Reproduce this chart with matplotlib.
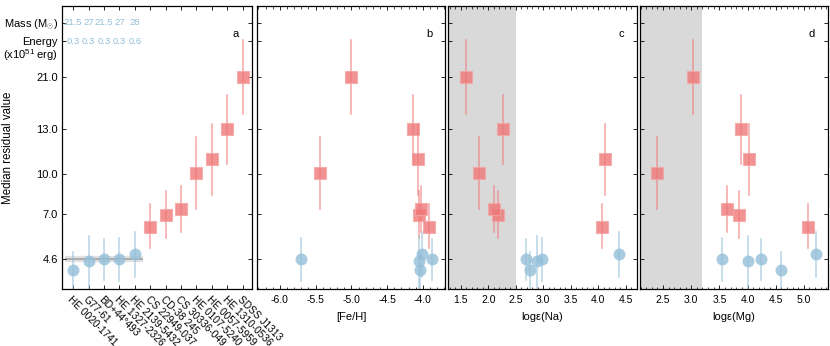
import numpy as np
import matplotlib
matplotlib.use("Agg")
import matplotlib.pyplot as plt
from matplotlib.ticker import FixedLocator

plt.rcParams['font.family'] = ['Liberation Sans', 'DejaVu Sans']
plt.rcParams['mathtext.fontset'] = 'custom'
plt.rcParams['mathtext.rm'] = 'Liberation Sans'

# ---- data ----
stars = ["HE 0020-1741", "G77-61", "BD+44°493", "HE 1327-2326", "HE 2139-5432",
         "CS 22949-037", "CD-38 245", "CS 30336-049", "HE 0107-5240",
         "HE 0057-5959", "HE 1310-0536", "SDSS J1313"]

# blue (low residual) stars
blue_val = [4.0, 4.5, 4.6, 4.6, 4.87]
blue_hi = [5.0, 5.84, 5.68, 5.72, 6.04]
blue_lo = [3.0, 3.0, 3.48, 3.45, 3.66]
blue_feh = [-4.04, -4.05, -3.87, -5.71, -4.01]
blue_na = [2.76, 2.88, 2.69, 2.98, 4.37]
blue_mg = [4.59, 4.00, 4.24, 3.55, 5.21]
blue_mass = ["21.5", "27", "21.5", "27", "28"]
blue_energy = ["0.3", "0.3", "0.3", "0.3", "0.6"]

# red (high residual) stars
red_val = [6.34, 6.98, 7.42, 10.07, 10.99, 13.0, 21.0]
red_hi = [7.74, 8.76, 9.13, 12.46, 13.8, 18.2, 28.3]
red_lo = [5.19, 5.75, 6.04, 7.42, 8.44, 10.65, 15.3]
red_feh = [-3.92, -4.06, -4.03, -5.44, -4.07, -4.14, -5.0]
red_na = [4.06, 2.17, 2.11, 1.84, 4.12, 2.26, 1.59]
red_mg = [5.08, 3.85, 3.64, 2.40, 4.03, 3.88, 3.03]

ytick_vals = [4.6, 7.0, 10.0, 13.0, 21.0]
ref_level = 4.6

# non-uniform value axis of the original figure
knot_val = np.array([3.0, 4.6, 7.0, 10.0, 13.0, 21.0, 35.0])
knot_pos = np.array([0.0, 29.7, 74.7, 115.0, 159.7, 212.3, 283.0])
energy_row, mass_row = 28.0, 31.7


def fwd(v):
    return np.interp(v, knot_val, knot_pos)


def inv(p):
    return np.interp(p, knot_pos, knot_val)


RED = '#ef7777'
BLUE = '#94bfd9'

fig = plt.figure(figsize=(8.3, 3.46), dpi=100)
W, H = 830.0, 346.0
panels = [(62, 252), (257, 445), (448, 637), (640, 828)]
axes = []
for x0, x1 in panels:
    axes.append(fig.add_axes([x0 / W, 1 - 289 / H, (x1 - x0) / W, 283 / H]))


def draw(ax, bx, rx):
    for x, v, lo, hi in zip(rx, red_val, red_lo, red_hi):
        ax.plot([x, x], [lo, hi], color=RED, lw=1.2, alpha=0.6, zorder=2)
    for x, v, lo, hi in zip(bx, blue_val, blue_lo, blue_hi):
        ax.plot([x, x], [lo, hi], color=BLUE, lw=1.2, alpha=0.6, zorder=2)
    ax.plot(rx, red_val, 's', ms=8.8, color=RED, alpha=0.8, mec='#f5a5a5',
            mew=0.8, ls='none', zorder=3)
    ax.plot(bx, blue_val, 'o', ms=8.6, color=BLUE, alpha=0.8, mec='none',
            ls='none', zorder=3)


def style(ax):
    ax.set_yscale('function', functions=(fwd, inv))
    ax.set_ylim(3.0, 35.0)
    ax.yaxis.set_major_locator(FixedLocator(ytick_vals + [energy_row, mass_row]))
    ax.yaxis.set_minor_locator(FixedLocator([]))
    ax.tick_params(direction='in', top=True, right=True, length=3,
                   width=0.6, labelsize=7.5, pad=4)
    ax.tick_params(which='minor', direction='in', top=True, right=True,
                   length=1.8, width=0.5)
    for s in ax.spines.values():
        s.set_linewidth(0.9)


# panel a
ax = axes[0]
style(ax)
xi = np.arange(len(stars))
draw(ax, xi[:5], xi[5:])
ax.plot([-0.5, 4.5], [ref_level, ref_level], color='#888888', lw=4.5,
        alpha=0.25, solid_capstyle='butt', zorder=1)
ax.plot([-0.5, 4.5], [ref_level, ref_level], color='#999999', lw=1.3,
        alpha=0.8, solid_capstyle='butt', zorder=1)
ax.set_xlim(-0.72, 11.6)
ax.xaxis.set_major_locator(FixedLocator(xi))
ax.set_xticklabels(stars, rotation=-45, ha='left', va='top',
                   rotation_mode='anchor', fontsize=7.3)
ax.set_yticklabels(['%.1f' % v for v in ytick_vals]
                   + ['Energy', 'Mass (M$_{\\odot}$)'], fontsize=8)
ax.tick_params(axis='y', pad=3)
ax.annotate('(x10$^{51}$ erg)', xy=(0, energy_row),
            xycoords=('axes fraction', 'data'), xytext=(-3, -10),
            textcoords='offset points', ha='right', va='center', fontsize=8)
for i in range(5):
    ax.text(i, mass_row, blue_mass[i], color=BLUE, fontsize=6.8,
            ha='center', va='center')
    ax.text(i, energy_row, blue_energy[i], color=BLUE, fontsize=6.8,
            ha='center', va='center')
ax.set_ylabel('Median residual value', fontsize=8.3)
ax.yaxis.set_label_coords(-0.255, 0.5)

# panels b-d
xlims = [(-6.32, -3.69), (1.27, 4.70), (2.09, 5.43)]
xlabels = ['[Fe/H]', 'logε(Na)', 'logε(Mg)']
bxs = [blue_feh, blue_na, blue_mg]
rxs = [red_feh, red_na, red_mg]
shade_to = [None, 2.5, 3.2]
for k, ax in enumerate(axes[1:]):
    style(ax)
    draw(ax, bxs[k], rxs[k])
    ax.set_xlim(*xlims[k])
    ax.xaxis.set_major_locator(plt.MultipleLocator(0.5))
    ax.xaxis.set_minor_locator(plt.MultipleLocator(0.1))
    ax.xaxis.set_major_formatter(plt.FormatStrFormatter('%.1f'))
    ax.set_yticklabels([])
    ax.set_xlabel(xlabels[k], fontsize=8, labelpad=5)
    if shade_to[k] is not None:
        ax.axvspan(xlims[k][0], shade_to[k], color='#d9d9d9', lw=0, zorder=0)

for ax, lab in zip(axes, 'abcd'):
    ax.text(0.915, 0.90, lab, transform=ax.transAxes, fontsize=8,
            ha='center', va='center')

fig.savefig('out.png', dpi=100)
